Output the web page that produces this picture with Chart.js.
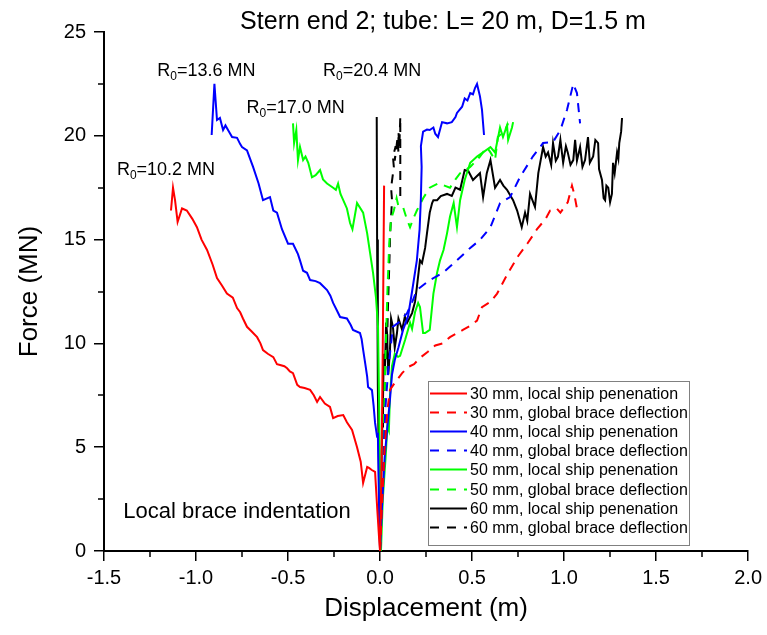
<!DOCTYPE html>
<html>
<head>
<meta charset="utf-8">
<script src="https://cdn.jsdelivr.net/npm/chart.js@4/dist/chart.umd.min.js"></script>
<style>
  html, body { margin: 0; padding: 0; background: #fff; }
  #wrap { width: 767px; height: 635px; }
</style>
</head>
<body>
<div id="wrap"><canvas id="c" width="767" height="635"></canvas></div>
<script>
// ---- Force–displacement curves, stern end 2, tube L = 20 m, D = 1.5 m ----
// Negative displacement: local brace indentation; positive: ship penetration / brace deflection.

const titleText = 'Stern end 2; tube: L= 20 m, D=1.5 m';
const xAxisTitle = 'Displacement (m)';
const yAxisTitle = 'Force (MN)';
const xTicks = [-1.5, -1.0, -0.5, 0.0, 0.5, 1.0, 1.5, 2.0];
const yTicks = [0, 5, 10, 15, 20, 25];

const seriesLabels = [
  '30 mm, local ship penenation', '30 mm, global brace deflection',
  '40 mm, local ship penenation', '40 mm, global brace deflection',
  '50 mm, local ship penenation', '50 mm, global brace deflection',
  '60 mm, local ship penenation', '60 mm, global brace deflection'
];

// 30 mm – local (brace indentation branch, then ship penetration branch)
const x30Local = [-1.136, -1.125, -1.114, -1.10, -1.076, -1.05, -1.02, -0.995, -0.97, -0.94, -0.91, -0.886, -0.86, -0.832, -0.80,
  -0.777, -0.76, -0.745, -0.723, -0.70, -0.668, -0.65, -0.636, -0.61, -0.58, -0.56, -0.543, -0.52, -0.505, -0.49, -0.473,
  -0.45, -0.435, -0.41, -0.38, -0.36, -0.342, -0.326, -0.30, -0.272, -0.255, -0.23, -0.20, -0.18, -0.152, -0.125, -0.105,
  -0.092, -0.08, -0.07, -0.06, -0.045, -0.027, -0.015, -0.005, 0.0, 0.008, 0.015, 0.022];
const f30Local = [16.4, 17.5, 16.9, 15.85, 16.5, 16.4, 16.0, 15.6, 15.0, 14.5, 13.8, 13.15, 12.8, 12.4, 12.2,
  11.7, 11.5, 11.2, 10.8, 10.6, 10.3, 10.0, 9.68, 9.5, 9.34, 9.0, 8.96, 8.9, 8.8, 8.65, 8.57,
  8.0, 7.9, 7.85, 7.76, 7.5, 7.18, 7.42, 7.1, 6.94, 6.4, 6.5, 6.55, 6.2, 5.83, 5.0, 4.3,
  3.28, 3.7, 4.05, 4.0, 3.9, 3.81, 2.0, 0.6, 0.0, 4.0, 10.0, 17.6];

// 30 mm – global brace deflection
const x30Global = [0.0, 0.012, 0.025, 0.04, 0.054, 0.08, 0.12, 0.152, 0.185, 0.217, 0.26, 0.30, 0.34, 0.38, 0.45, 0.50,
  0.527, 0.554, 0.60, 0.636, 0.696, 0.75, 0.80, 0.853, 0.90, 0.924, 0.96, 0.98, 1.02, 1.043, 1.055, 1.07];
const f30Global = [0.0, 2.5, 5.0, 6.8, 7.76, 8.1, 8.57, 8.86, 9.0, 9.3, 9.6, 9.9, 10.0, 10.3, 10.65, 10.9,
  11.1, 11.75, 12.0, 12.4, 13.4, 14.2, 14.8, 15.5, 16.0, 16.4, 16.5, 16.3, 16.8, 17.6, 17.2, 16.5];

// 40 mm – local
const x40Local = [-0.915, -0.90, -0.886, -0.87, -0.853, -0.84, -0.826, -0.804, -0.777, -0.76, -0.75, -0.723, -0.69, -0.66,
  -0.636, -0.598, -0.58, -0.56, -0.533, -0.50, -0.473, -0.446, -0.435, -0.418, -0.397, -0.38, -0.35, -0.326, -0.288,
  -0.27, -0.255, -0.235, -0.217, -0.18, -0.16, -0.147, -0.109, -0.10, -0.092, -0.08, -0.07, -0.065, -0.044, -0.035,
  -0.027, -0.016, -0.012, -0.006, 0.0,
  0.01, 0.025, 0.04, 0.054, 0.065, 0.08, 0.10, 0.125, 0.152, 0.174, 0.20, 0.215, 0.222, 0.226, 0.222, 0.234, 0.255,
  0.27, 0.29, 0.30, 0.315, 0.337, 0.364, 0.39, 0.41, 0.418, 0.446, 0.46, 0.475, 0.49, 0.505, 0.516, 0.527, 0.543,
  0.554, 0.565];
const f40Local = [20.04, 22.5, 20.76, 20.86, 20.28, 20.5, 20.28, 19.94, 19.9, 19.6, 19.46, 19.3, 18.5, 17.7,
  16.9, 17.05, 16.4, 16.3, 15.5, 14.8, 14.8, 14.3, 14.0, 13.5, 13.4, 13.05, 13.0, 12.9, 12.57,
  12.3, 11.95, 11.6, 11.27, 11.2, 10.9, 10.65, 10.5, 10.2, 9.7, 9.0, 8.4, 7.9, 7.75, 7.0,
  6.17, 5.5, 5.7, 2.5, 0.0,
  2.0, 4.5, 6.0, 7.3, 8.5, 9.2, 9.8, 10.65, 11.3, 12.5, 14.0, 15.5, 17.0, 18.5, 19.5, 20.2, 20.3,
  20.28, 20.4, 20.1, 19.94, 20.66, 20.6, 20.66, 20.9, 21.1, 21.4, 21.8, 21.7, 22.06, 22.0, 22.3, 22.5, 21.9,
  21.25, 20.04];

// 40 mm – global brace deflection
const x40Global = [0.0, 0.01, 0.02, 0.03, 0.045, 0.06, 0.07, 0.10, 0.147, 0.175, 0.20, 0.27, 0.342, 0.38, 0.418, 0.49,
  0.543, 0.60, 0.652, 0.707, 0.76, 0.83, 0.886, 0.94, 0.98, 1.016, 1.05, 1.07, 1.087];
const f40Global = [0.0, 2.5, 5.0, 7.0, 8.8, 10.0, 10.8, 11.0, 11.46, 12.0, 12.57, 13.05, 13.4, 13.7, 14.0, 14.6,
  14.98, 15.6, 16.76, 17.05, 18.0, 19.0, 19.65, 19.7, 20.28, 21.25, 22.5, 22.06, 20.6];

// 50 mm – local
const x50Local = [-0.473, -0.467, -0.455, -0.446, -0.435, -0.418, -0.405, -0.39, -0.37, -0.35, -0.326, -0.31, -0.288,
  -0.255, -0.24, -0.228, -0.215, -0.20, -0.18, -0.163, -0.15, -0.125, -0.092, -0.07, -0.054, -0.038, -0.022, -0.011,
  -0.005, 0.0, 0.005,
  0.015, 0.03, 0.04, 0.048, 0.054, 0.065, 0.08, 0.098, 0.109, 0.136, 0.163, 0.174, 0.19, 0.207, 0.217, 0.234, 0.245,
  0.27, 0.29, 0.31, 0.326, 0.345, 0.364, 0.38, 0.40, 0.418, 0.435, 0.46, 0.49, 0.527, 0.56, 0.60, 0.625, 0.652, 0.668,
  0.69, 0.696, 0.717, 0.723];
const f50Local = [20.6, 19.65, 20.28, 18.83, 19.46, 18.83, 19.0, 18.7, 18.0, 18.1, 18.35, 17.9, 17.7,
  17.5, 17.4, 17.7, 17.2, 16.9, 16.5, 15.8, 15.5, 16.76, 16.3, 15.3, 14.35, 13.4, 12.2, 10.8,
  7.0, 3.0, 0.0,
  2.5, 4.5, 6.0, 5.8, 7.5, 8.9, 9.5, 9.35, 9.4, 10.16, 11.0, 10.7, 11.5, 11.95, 11.75, 10.5, 10.5,
  10.65, 12.4, 13.4, 14.0, 14.5, 15.3, 16.1, 16.76, 15.6, 16.9, 17.87, 18.7, 19.0, 19.2, 19.46, 19.2, 20.4, 19.94,
  20.5, 19.8, 20.4, 20.66];

// 50 mm – global brace deflection
const x50Global = [0.0, 0.01, 0.02, 0.03, 0.04, 0.05, 0.06, 0.075, 0.09, 0.10, 0.125, 0.145, 0.163, 0.18, 0.20, 0.235,
  0.27, 0.315, 0.35, 0.38, 0.41, 0.435, 0.49, 0.543, 0.58, 0.60, 0.625, 0.64, 0.68, 0.696];
const f50Global = [0.0, 3.0, 6.0, 9.5, 12.5, 14.8, 16.0, 16.4, 17.0, 16.6, 16.57, 16.0, 15.6, 16.0, 16.4, 17.0,
  17.5, 17.7, 17.6, 17.5, 17.9, 18.2, 18.5, 19.0, 19.46, 19.2, 18.83, 19.94, 20.28, 20.6];

// 60 mm – local
const x60Local = [-0.018, -0.016, -0.012, -0.005, 0.0,
  0.005, 0.012, 0.016, 0.02, 0.027, 0.033, 0.038, 0.045, 0.054, 0.06, 0.07, 0.08, 0.092, 0.10, 0.12, 0.135, 0.147,
  0.174, 0.19, 0.20, 0.217, 0.228, 0.245, 0.255, 0.27, 0.283, 0.29, 0.31, 0.33, 0.364, 0.39, 0.41, 0.435, 0.46, 0.48,
  0.505, 0.52, 0.543, 0.56, 0.58, 0.60, 0.625, 0.652, 0.67, 0.69, 0.723, 0.745, 0.77, 0.788, 0.80, 0.815, 0.842, 0.86,
  0.886, 0.90, 0.913, 0.93, 0.94, 0.955, 0.967, 0.98, 0.995, 1.01, 1.02, 1.035, 1.05, 1.06, 1.07, 1.087, 1.10, 1.114,
  1.13, 1.14, 1.158, 1.17, 1.185, 1.19, 1.206, 1.215, 1.223, 1.23, 1.24, 1.25, 1.26, 1.266, 1.275, 1.288, 1.295, 1.30,
  1.31, 1.315];
const f60Local = [20.9, 15.0, 8.0, 3.0, 0.0,
  3.0, 6.0, 7.3, 9.5, 8.9, 11.0, 10.5, 8.5, 9.7, 11.2, 10.8, 9.8, 10.5, 11.2, 10.65, 11.3, 11.0,
  11.46, 12.0, 12.7, 14.0, 13.87, 14.6, 15.3, 16.3, 16.76, 16.9, 16.9, 17.1, 17.2, 17.1, 17.5, 17.4, 18.35, 18.3,
  17.87, 18.0, 18.2, 17.05, 18.2, 18.83, 17.5, 17.87, 17.6, 17.4, 16.9, 16.4, 15.6, 16.3, 15.9, 17.2, 16.57, 18.2,
  19.46, 19.0, 19.2, 18.6, 19.65, 18.8, 19.0, 19.8, 18.7, 19.5, 19.2, 18.6, 18.83, 19.8, 18.8, 19.46, 18.5, 18.83,
  19.94, 18.7, 19.0, 19.8, 19.65, 18.4, 17.87, 17.0, 16.9, 17.6, 17.5, 16.8, 17.2, 18.7, 18.2, 19.2, 18.9, 19.65,
  20.2, 20.86];

// 60 mm – global brace deflection
const x60Global = [0.0, 0.01, 0.02, 0.03, 0.038, 0.043, 0.05, 0.055, 0.065, 0.06, 0.075, 0.07, 0.085, 0.08, 0.095, 0.10,
  0.10, 0.105, 0.11, 0.11];
const f60Global = [0.0, 3.0, 7.0, 8.9, 10.0, 11.75, 13.7, 15.3, 16.9, 17.5, 18.5, 19.0, 19.5, 18.8, 19.9, 19.2,
  20.2, 19.5, 20.9, 17.0];

const seriesX = [x30Local, x30Global, x40Local, x40Global, x50Local, x50Global, x60Local, x60Global];
const seriesF = [f30Local, f30Global, f40Local, f40Global, f50Local, f50Global, f60Local, f60Global];
const seriesColors = ['#ff0000', '#ff0000', '#0000ff', '#0000ff', '#00ff00', '#00ff00', '#000000', '#000000'];
const seriesDashed = [false, true, false, true, false, true, false, true];

// Peak-load labels for the indentation branches: [x, y] in data units (baseline position)
const peakLabels = [
  { value: '10.2', at: [-1.43, 18.1] },
  { value: '13.6', at: [-1.21, 22.9] },
  { value: '17.0', at: [-0.725, 21.1] },
  { value: '20.4', at: [-0.31, 22.9] }
];
const noteText = 'Local brace indentation';

const FONT = '"Liberation Sans", Arial, sans-serif';

const datasets = seriesX.map((xs, i) => ({
  label: seriesLabels[i],
  data: xs.map((v, k) => ({ x: v, y: seriesF[i][k] })),
  showLine: true,
  borderColor: seriesColors[i],
  backgroundColor: seriesColors[i],
  borderWidth: 2,
  borderDash: seriesDashed[i] ? [9, 7] : [],
  pointRadius: 0,
  tension: 0,
  fill: false
}));

const decorations = {
  id: 'decorations',
  afterDraw(chart) {
    const { ctx, chartArea: a, scales: { x, y } } = chart;
    ctx.save();

    // minor ticks
    ctx.strokeStyle = '#000';
    ctx.lineWidth = 1.5;
    ctx.beginPath();
    for (let i = 0; i < xTicks.length - 1; i++) {
      const px = Math.round(x.getPixelForValue((xTicks[i] + xTicks[i + 1]) / 2));
      ctx.moveTo(px, a.bottom); ctx.lineTo(px, a.bottom + 6);
    }
    for (let i = 0; i < yTicks.length - 1; i++) {
      const py = Math.round(y.getPixelForValue((yTicks[i] + yTicks[i + 1]) / 2));
      ctx.moveTo(a.left, py); ctx.lineTo(a.left - 6, py);
    }
    ctx.stroke();

    ctx.fillStyle = '#000';
    ctx.textBaseline = 'alphabetic';

    // title
    ctx.font = '25px ' + FONT;
    ctx.textAlign = 'center';
    ctx.fillText(titleText, 443, 29);

    // axis titles
    ctx.font = '26px ' + FONT;
    ctx.fillText(xAxisTitle, (a.left + a.right) / 2, 616);
    ctx.save();
    ctx.translate(37, (a.top + a.bottom) / 2);
    ctx.rotate(-Math.PI / 2);
    ctx.fillText(yAxisTitle, 0, 0);
    ctx.restore();

    // peak-load labels with subscript
    ctx.textAlign = 'left';
    peakLabels.forEach(p => {
      let px = x.getPixelForValue(p.at[0]);
      const py = y.getPixelForValue(p.at[1]);
      ctx.font = '18px ' + FONT;
      ctx.fillText('R', px, py);
      px += ctx.measureText('R').width;
      ctx.font = '12px ' + FONT;
      ctx.fillText('0', px, py + 4);
      px += ctx.measureText('0').width;
      ctx.font = '18px ' + FONT;
      ctx.fillText('=' + p.value + ' MN', px, py);
    });

    // note
    ctx.font = '22px ' + FONT;
    ctx.fillText(noteText, x.getPixelForValue(-1.395), y.getPixelForValue(1.6));

    // legend
    const lx = 428.5, ly = 381.5, lw = 261, lh = 164;
    ctx.fillStyle = '#fff';
    ctx.fillRect(lx, ly, lw, lh);
    ctx.strokeStyle = '#808080';
    ctx.lineWidth = 1;
    ctx.setLineDash([]);
    ctx.strokeRect(lx, ly, lw, lh);
    ctx.font = '16px ' + FONT;
    ctx.textBaseline = 'middle';
    seriesLabels.forEach((lab, i) => {
      const ry = Math.round(393 + i * 19.1) + 0.5;
      ctx.strokeStyle = seriesColors[i];
      ctx.lineWidth = 2;
      ctx.setLineDash(seriesDashed[i] ? [9, 8] : []);
      ctx.beginPath();
      ctx.moveTo(430, ry); ctx.lineTo(467, ry);
      ctx.stroke();
      ctx.setLineDash([]);
      ctx.fillStyle = '#000';
      ctx.fillText(lab, 470, ry + 1);
    });

    ctx.restore();
  }
};

new Chart(document.getElementById('c'), {
  type: 'scatter',
  data: { datasets },
  options: {
    responsive: false,
    animation: false,
    events: [],
    layout: { padding: { top: 32, right: 18, left: 0, bottom: 0 } },
    plugins: { legend: { display: false }, tooltip: { enabled: false }, title: { display: false } },
    scales: {
      x: {
        type: 'linear',
        min: xTicks[0], max: xTicks[xTicks.length - 1],
        afterFit(s) { s.height = 84; },
        afterBuildTicks(s) { s.ticks = xTicks.map(v => ({ value: v })); },
        grid: { drawOnChartArea: false, drawTicks: true, tickLength: 10, color: '#000', lineWidth: 1.5 },
        border: { display: true, color: '#000', width: 2 },
        ticks: { padding: 5, color: '#000', font: { family: FONT, size: 20 }, maxRotation: 0,
                 callback: v => Number(v).toFixed(1) }
      },
      y: {
        type: 'linear',
        min: yTicks[0], max: yTicks[yTicks.length - 1],
        afterFit(s) { s.width = 104; },
        afterBuildTicks(s) { s.ticks = yTicks.map(v => ({ value: v })); },
        grid: { drawOnChartArea: false, drawTicks: true, tickLength: 10, color: '#000', lineWidth: 1.5 },
        border: { display: true, color: '#000', width: 2 },
        ticks: { padding: 8, color: '#000', font: { family: FONT, size: 20 },
                 callback: v => String(v) }
      }
    }
  },
  plugins: [decorations]
});
</script>
</body>
</html>
